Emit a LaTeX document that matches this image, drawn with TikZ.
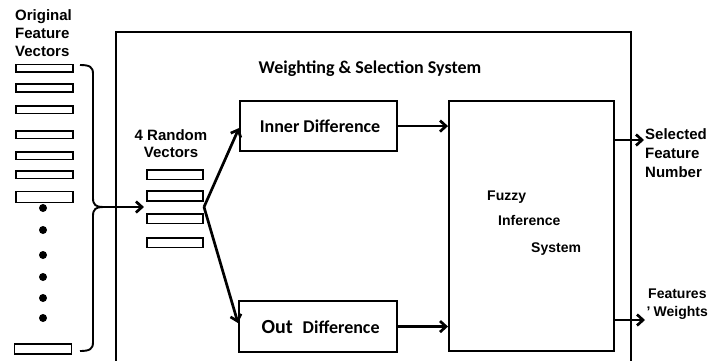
\documentclass[tikz,border=0pt]{standalone}
\usepackage{fontspec}
\setmainfont{Liberation Sans}
\newfontfamily\calibrifont{Carlito}
\usetikzlibrary{arrows.meta,calc}
\begin{document}
\begin{tikzpicture}[x=1pt,y=-1pt,
  box/.style={draw, line width=2.1pt, inner sep=0pt},
  vec/.style={draw, line width=1.6pt, minimum width=57pt, minimum height=7.6pt, inner sep=0pt},
  rvec/.style={draw, line width=1.6pt, minimum width=56.5pt, minimum height=9.6pt, inner sep=0pt},
  arr/.style={line width=2.7pt, -{Straight Barb[length=6pt,width=11pt]}},
  lbl/.style={font=\fontsize{15}{18}\selectfont\bfseries, inner sep=0pt, align=left},
  clbl/.style={font=\fontsize{18}{22}\selectfont\calibrifont\bfseries, inner sep=0pt},
  dot/.style={circle, fill, minimum size=8pt, inner sep=0pt}
]
\useasboundingbox (0,0) rectangle (709,360);
\clip (0,0) rectangle (709,360);

% outer system box (extends beyond the bottom edge)
\node[box, line width=1.9pt, minimum width=515pt, minimum height=360pt, anchor=north west] (outer) at (115,31) {};
\node[clbl, anchor=base] (title) at (370,73) {Weighting \& Selection System};

% original feature vectors
\node[lbl, anchor=north west] (origlbl) at (15,9) {Original\\Feature\\Vectors};
\node[vec] (v1) at (44.2,68.3) {};
\node[vec] (v2) at (44.2,88) {};
\node[vec] (v3) at (44.2,109.5) {};
\node[vec] (v4) at (44.2,134.7) {};
\node[vec] (v5) at (44.2,155.5) {};
\node[vec] (v6) at (44.2,174.5) {};
\node[vec, minimum height=11pt] (v7) at (44.2,197) {};
\node[vec, minimum height=10pt] (v8) at (43,349) {};
\foreach \y [count=\i] in {208,230,255,277,298,318}
  \node[dot] (d\i) at (43,\y) {};

% brace
\draw[line width=1.9pt] (80,65) .. controls (90,65) and (93,67) .. (93,74) -- (93,198)
  .. controls (93,205) and (96,207) .. (103,207)
  .. controls (96,207) and (93,209) .. (93,216) -- (93,342)
  .. controls (93,349) and (90,351) .. (80,351);
\coordinate (bracetip) at (103,207);

% random vectors
\node[lbl, font=\fontsize{15}{17}\selectfont\bfseries, align=center, anchor=north] (rvlbl) at (171,129) {4 Random\\Vectors};
\node[rvec] (rv1) at (175,174.5) {};
\node[rvec] (rv2) at (175,196) {};
\node[rvec] (rv3) at (175,218.5) {};
\node[rvec] (rv4) at (175,242.5) {};
\draw[arr] (bracetip) -- ($(rv2.west |- bracetip)+(-2,0)$);

% difference boxes
\node[box, clbl, minimum width=157pt, minimum height=50pt, anchor=north west] (inner) at (239,100) {\hspace*{3pt}Inner Difference};
\node[box, clbl, minimum width=158pt, minimum height=51pt, anchor=north west] (outd) at (238,300) {\hspace*{5pt}{\fontsize{20}{24}\selectfont Out}\hspace{10pt}Difference};

\coordinate (branch) at (204,207);
\draw[arr] (branch) -- ($(inner.west)+(0,2)$);
\draw[arr] (branch) -- ($(outd.west)+(0,-3.5)$);

% fuzzy inference system
\node[box, minimum width=165pt, minimum height=250pt, anchor=north west] (fuzzy) at (448,100) {};
\node[lbl, font=\fontsize{14}{17}\selectfont\bfseries, anchor=base west] (fz1) at (487,200) {Fuzzy};
\node[lbl, font=\fontsize{14}{17}\selectfont\bfseries, anchor=base west] (fz2) at (498,225) {Inference};
\node[lbl, font=\fontsize{14}{17}\selectfont\bfseries, anchor=base west] (fz3) at (531,252) {System};

\draw[arr] (inner.east) -- (inner.east -| fuzzy.west);
\draw[arr] (outd.east) -- (outd.east -| fuzzy.west);

% outputs
\coordinate (o1) at (644,140);
\coordinate (o2) at (645,320);
\draw[arr] (fuzzy.east |- o1) -- (o1);
\draw[arr] (fuzzy.east |- o2) -- (o2);
\node[lbl, font=\fontsize{15}{19}\selectfont\bfseries, anchor=north west] (selout) at (645,128) {Selected\\Feature\\Number};
\node[lbl, font=\fontsize{14}{17.5}\selectfont\bfseries, anchor=north west] (wout) at (646.5,289) {\hspace*{1.5pt}Features\\'\hspace{3pt}Weights};
\end{tikzpicture}
\end{document}
